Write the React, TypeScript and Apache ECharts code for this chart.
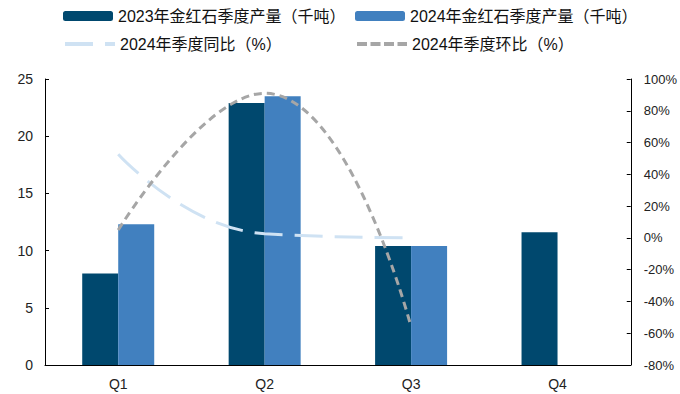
import React, { useEffect, useRef } from "react";
import * as echarts from "echarts";

// Quarterly rutile output (kt) and 2024 growth rates (%)
const quarters = ["Q1", "Q2", "Q3", "Q4"];
const output2023 = [8.0, 22.9, 10.4, 11.6];
const output2024: (number | string)[] = [12.3, 23.5, 10.4, "-"];
const yoy2024: (number | string)[] = [52.6, 2.6, 0, "-"];
const qoq2024: (number | string)[] = [5, 91, -56, "-"];

const leftTicks = { min: 0, max: 25, interval: 5 };
const rightTicks = { min: -80, max: 100, interval: 20 };

const names = {
  a: "2023年金红石季度产量（千吨）",
  b: "2024年金红石季度产量（千吨）",
  c: "2024年季度同比（%）",
  d: "2024年季度环比（%）",
};

const FONT = "'Liberation Sans', Arial, 'Noto Sans CJK SC', sans-serif";

export default function App() {
  const ref = useRef<HTMLDivElement>(null);

  useEffect(() => {
    if (!ref.current) return;
    const chart = echarts.init(ref.current, undefined, { renderer: "svg" });

    const legendBase = {
      padding: 0,
      itemWidth: 50,
      itemHeight: 10,
      itemGap: 10,
      textStyle: { fontSize: 16, color: "#111", fontFamily: FONT },
    };
    // line entries show only the dashed stroke, no marker dot
    const blueLegend = {
      ...legendBase,
      itemStyle: { opacity: 0 },
      lineStyle: { width: 4, type: [28, 12] },
    };
    const grayLegend = {
      ...legendBase,
      itemStyle: { opacity: 0 },
      lineStyle: { width: 4, type: [10, 3.5] },
    };

    chart.setOption({
      animation: false,
      backgroundColor: "#fff",
      textStyle: { fontFamily: FONT },
      legend: [
        { ...legendBase, left: 63, top: 8, data: [names.a] },
        { ...legendBase, left: 355, top: 8, data: [names.b] },
        { ...blueLegend, left: 63, top: 36, data: [names.c] },
        { ...grayLegend, left: 355, top: 36, data: [names.d] },
      ],
      grid: { left: 45, right: 49, top: 79, bottom: 29, containLabel: false },
      xAxis: {
        type: "category",
        data: quarters,
        boundaryGap: true,
        axisLine: { lineStyle: { color: "#000", width: 1 } },
        axisTick: { inside: true, length: 4, lineStyle: { color: "#000" } },
        axisLabel: { color: "#222", fontSize: 14, margin: 12 },
      },
      yAxis: [
        {
          type: "value",
          ...leftTicks,
          axisLine: { show: true, lineStyle: { color: "#000", width: 1 } },
          axisTick: { show: true, inside: true, length: 4, lineStyle: { color: "#000" } },
          axisLabel: { color: "#222", fontSize: 14, margin: 12 },
          splitLine: { show: false },
        },
        {
          type: "value",
          ...rightTicks,
          position: "right",
          axisLine: { show: true, lineStyle: { color: "#000", width: 1 } },
          axisTick: { show: true, inside: true, length: 4, lineStyle: { color: "#000" } },
          axisLabel: { color: "#222", fontSize: 13, margin: 13, formatter: "{value}%" },
          splitLine: { show: false },
        },
      ],
      series: [
        {
          name: names.a,
          type: "bar",
          data: output2023,
          barWidth: 36,
          barGap: "0%",
          itemStyle: { color: "#00486E" },
        },
        {
          name: names.b,
          type: "bar",
          data: output2024,
          barWidth: 36,
          barGap: "0%",
          itemStyle: { color: "#4180BF" },
        },
        {
          name: names.c,
          type: "line",
          yAxisIndex: 1,
          data: yoy2024,
          smooth: 0.5,
          symbol: "none",
          z: 3,
          lineStyle: { color: "#CFE2F3", width: 3, type: [28, 12] },
          itemStyle: { color: "#CFE2F3" },
        },
        {
          name: names.d,
          type: "line",
          yAxisIndex: 1,
          data: qoq2024,
          smooth: 0.5,
          symbol: "none",
          z: 4,
          lineStyle: { color: "#A6A6A6", width: 3, type: [8, 5] },
          itemStyle: { color: "#A6A6A6" },
        },
      ],
    });

    return () => chart.dispose();
  }, []);

  return (
    <div
      ref={ref}
      style={{ position: "fixed", left: 0, top: 0, width: 680, height: 394 }}
    />
  );
}
